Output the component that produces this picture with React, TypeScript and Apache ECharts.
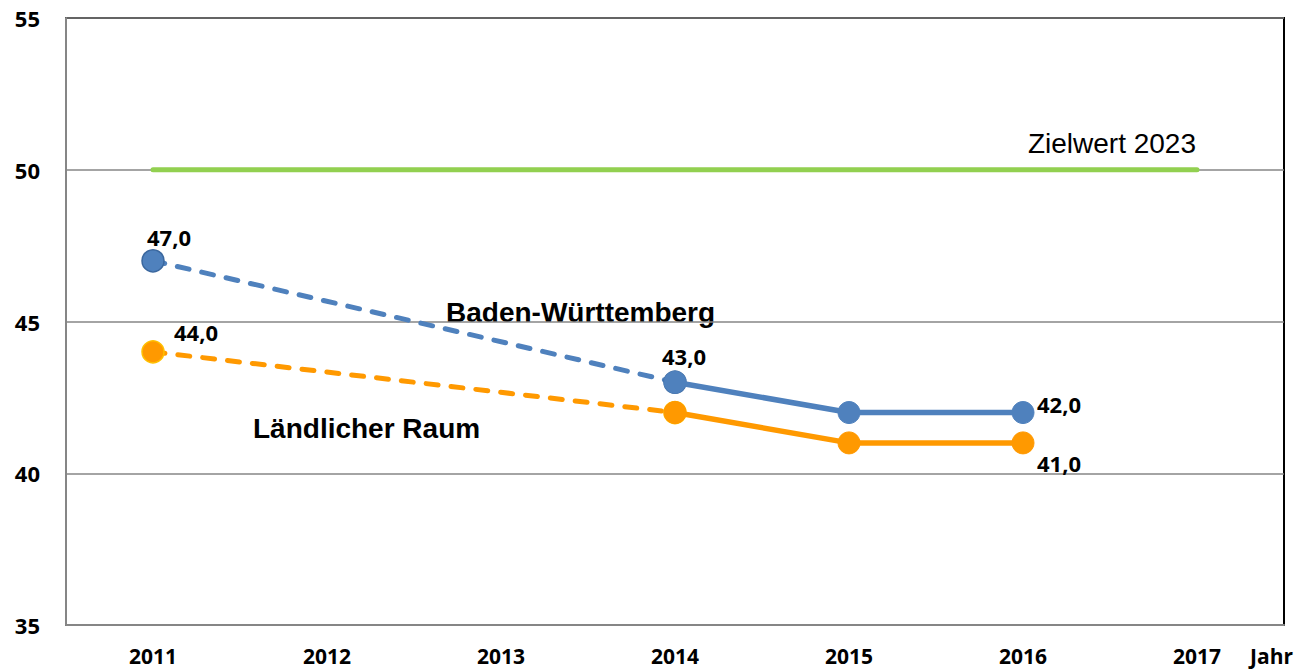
import React, { useEffect, useRef } from "react";
import * as echarts from "echarts";

const years = ["2011", "2012", "2013", "2014", "2015", "2016", "2017"];
const bwValues: (number | null)[] = [47, null, null, 43, 42, 42, null];
const lrValues: (number | null)[] = [44, null, null, 42, 41, 41, null];
const targetValues = [50, 50, 50, 50, 50, 50, 50];
const yMin = 35;
const yMax = 55;
const yInterval = 5;
const solidFrom = 3; // index of 2014: measured values from here on
const bwName = "Baden-Württemberg";
const lrName = "Ländlicher Raum";
const targetName = "Zielwert 2023";
const axisUnit = "Jahr";

const fmt = (v: number) => v.toFixed(1).replace(".", ",");

const NUM_FONT = "'Open Sans', 'DejaVu Sans', sans-serif";
const TXT_FONT = "'Liberation Sans', Arial, sans-serif";

export default function App() {
  const ref = useRef<HTMLDivElement>(null);
  useEffect(() => {
    if (!ref.current) return;
    const chart = echarts.init(ref.current, undefined, { renderer: "svg" });

    const labelStyle = {
      show: true,
      position: "top",
      fontFamily: NUM_FONT,
      fontWeight: "bold",
      fontSize: 22,
      color: "#000",
      formatter: (p: any) => fmt(p.value),
    };

    const withLabels = (vals: (number | null)[], offsets: Record<number, number[]>) =>
      vals.map((v, i) =>
        v == null
          ? null
          : offsets[i]
          ? { value: v, label: { ...labelStyle, offset: offsets[i] } }
          : { value: v }
      );

    const bwOffsets: Record<number, number[]> = { 0: [16, 4], 3: [9, 1], 5: [36, 19] };
    const lrOffsets: Record<number, number[]> = { 0: [43, 8], 5: [36, 48] };

    const bwData = withLabels(bwValues, bwOffsets);
    const lrData = withLabels(lrValues, lrOffsets);

    const solidPart = (d: any[]) => d.map((x, i) => (i >= solidFrom ? x : null));
    const dashedOnlyFirst = (d: any[]) =>
      d.map((x, i) =>
        i < solidFrom ? x : i === solidFrom && x ? { value: x.value, label: { show: false } } : null
      );

    const blue = "#4F81BD";
    const orange = "#FF9900";

    const axisLabelStyle = {
      fontFamily: NUM_FONT,
      fontWeight: "bold",
      fontSize: 22,
      lineHeight: 18,
      color: "#000",
    };

    const option: any = {
      animation: false,
      grid: {
        left: 66,
        right: 17,
        top: 18,
        bottom: 46,
        show: true,
        borderColor: "#000",
        borderWidth: 2,
      },
      xAxis: {
        type: "category",
        data: years,
        boundaryGap: true,
        axisLine: { show: true, lineStyle: { color: "#868686", width: 2 } },
        axisTick: { show: false },
        axisLabel: { ...axisLabelStyle, fontSize: 21, margin: 22 },
        splitLine: { show: false },
      },
      yAxis: {
        type: "value",
        min: yMin,
        max: yMax,
        interval: yInterval,
        axisLine: { show: true, lineStyle: { color: "#868686", width: 2 } },
        axisTick: { show: false },
        axisLabel: { ...axisLabelStyle, margin: 26 },
        splitLine: { show: true, lineStyle: { color: "#868686", width: 1.5 } },
      },
      series: [
        {
          name: targetName,
          type: "line",
          data: targetValues,
          showSymbol: false,
          symbol: "none",
          lineStyle: { color: "#92D050", width: 5, cap: "round" },
          z: 2,
        },
        {
          name: bwName + " (Trend)",
          type: "line",
          data: dashedOnlyFirst(bwData),
          connectNulls: true,
          symbol: "circle",
          symbolSize: 22,
          itemStyle: { color: blue, borderColor: "#3A679E", borderWidth: 1.5 },
          lineStyle: { color: blue, width: 5, type: [12, 13], cap: "round" },
          z: 3,
        },
        {
          name: bwName,
          type: "line",
          data: solidPart(bwData),
          symbol: "circle",
          symbolSize: 22,
          itemStyle: { color: blue, borderColor: blue, borderWidth: 1 },
          lineStyle: { color: blue, width: 5.5 },
          z: 4,
        },
        {
          name: lrName + " (Trend)",
          type: "line",
          data: dashedOnlyFirst(lrData),
          connectNulls: true,
          symbol: "circle",
          symbolSize: 22,
          itemStyle: { color: orange, borderColor: "#FFC000", borderWidth: 1.5 },
          lineStyle: { color: orange, width: 5, type: [12, 13], cap: "round" },
          z: 3,
        },
        {
          name: lrName,
          type: "line",
          data: solidPart(lrData),
          symbol: "circle",
          symbolSize: 22,
          itemStyle: { color: orange, borderColor: orange, borderWidth: 1 },
          lineStyle: { color: orange, width: 5.5 },
          z: 4,
        },
      ],
      graphic: [
        {
          type: "text",
          x: 1196,
          y: 143,
          style: {
            text: targetName,
            font: `28px ${TXT_FONT}`,
            fill: "#000",
            align: "right",
            verticalAlign: "middle",
          },
        },
        {
          type: "text",
          x: 446,
          y: 312,
          style: {
            text: bwName,
            font: `bold 28px ${TXT_FONT}`,
            fill: "#000",
            align: "left",
            verticalAlign: "middle",
          },
        },
        {
          type: "text",
          x: 253,
          y: 428,
          style: {
            text: lrName,
            font: `bold 28px ${TXT_FONT}`,
            fill: "#000",
            align: "left",
            verticalAlign: "middle",
          },
        },
        {
          type: "text",
          x: 1250,
          y: 656,
          style: {
            text: axisUnit,
            font: `bold 21px ${NUM_FONT}`,
            lineHeight: 18,
            fill: "#000",
            align: "left",
            verticalAlign: "middle",
          },
        },
      ],
    };
    chart.setOption(option);
    return () => chart.dispose();
  }, []);

  return (
    <div
      ref={ref}
      style={{ position: "fixed", left: 0, top: 0, width: 1301, height: 671, background: "#fff" }}
    />
  );
}
